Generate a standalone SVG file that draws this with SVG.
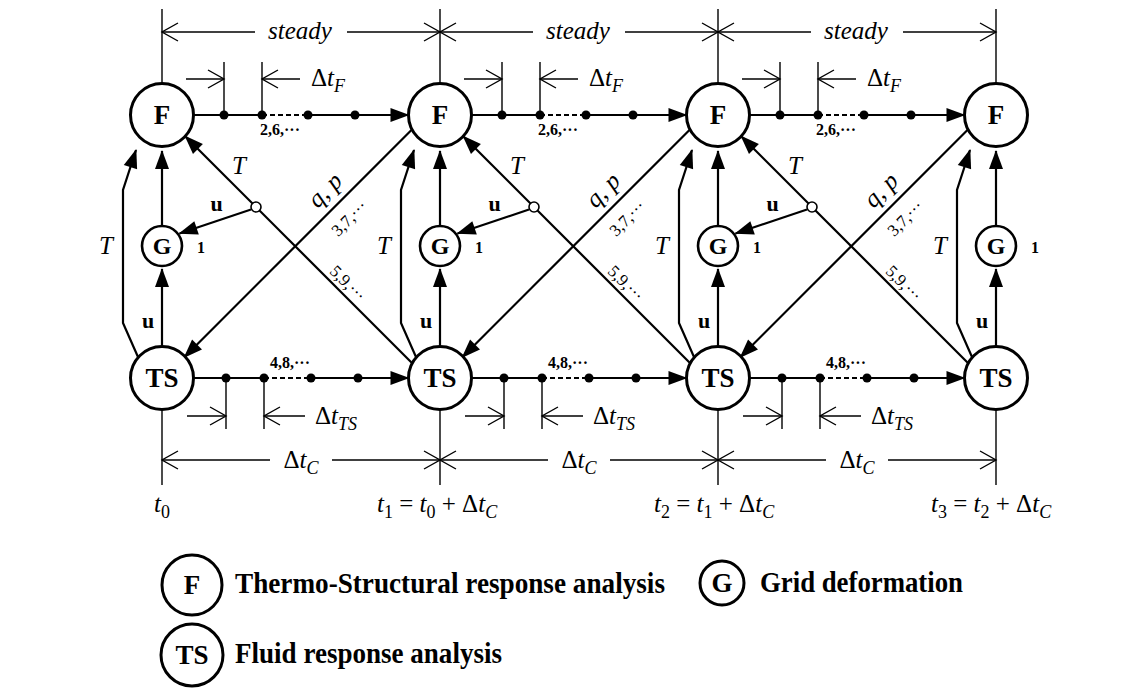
<svg xmlns="http://www.w3.org/2000/svg" width="1143" height="693" viewBox="0 0 1143 693">
<defs>
<marker id="arr" viewBox="-19 -8 20 16" refX="0" refY="0" markerWidth="20" markerHeight="16" markerUnits="userSpaceOnUse" orient="auto"><path d="M1,0 L-18,-7 L-18,7 Z" fill="#000"/></marker>
<marker id="open" viewBox="-18 -11 20 22" refX="0" refY="0" markerWidth="20" markerHeight="22" markerUnits="userSpaceOnUse" orient="auto"><path d="M-16,-9 L0,0 L-16,9" fill="none" stroke="#000" stroke-width="1.4"/></marker>
</defs>
<style>
.n{fill:#fff;stroke:#000;stroke-width:3}
.ng{fill:#fff;stroke:#000;stroke-width:2.6}
.c{fill:none;stroke:#000;stroke-width:2.2}
.ca{fill:none;stroke:#000;stroke-width:2.2;marker-end:url(#arr)}
.d{fill:none;stroke:#000;stroke-width:1.4}
.da{fill:none;stroke:#000;stroke-width:1.4;marker-end:url(#open)}
.dash{fill:none;stroke:#000;stroke-width:2;stroke-dasharray:5 3}
.sc{fill:#fff;stroke:#000;stroke-width:1.6}
text{font-family:"Liberation Serif","Times New Roman",serif;fill:#000}
.lbl{font-weight:bold;font-size:27px;text-anchor:middle}
.lg{font-weight:bold;font-size:24px;text-anchor:middle}
.itm{font-style:italic;font-size:25px;text-anchor:middle}
.rm{font-size:25px}
.rmm{font-size:25px;text-anchor:middle}
.sub{font-size:18px}
.sm{font-size:17px;text-anchor:middle}
.smb{font-size:16px;font-weight:bold}
.ub{font-size:22px;font-weight:bold;text-anchor:middle}
.one{font-size:16px;font-weight:bold}
.leg{font-size:30px;font-weight:bold}
.legl{font-weight:bold;font-size:27px;text-anchor:middle}
</style>
<rect width="1143" height="693" fill="#fff"/>

<g id="connectors">
  <g id="col-connectors">
    <g id="colc1">
      <path class="ca" d="M138,357 L123,323 L123,190 L136,150"/>
      <path class="ca" d="M162,346.5 L162,269"/>
      <path class="ca" d="M162,226 L162,151"/>
    </g>
    <g id="colc2" transform="translate(278,0)">
      <path class="ca" d="M138,357 L123,323 L123,190 L136,150"/>
      <path class="ca" d="M162,346.5 L162,269"/>
      <path class="ca" d="M162,226 L162,151"/>
    </g>
    <g id="colc3" transform="translate(556,0)">
      <path class="ca" d="M138,357 L123,323 L123,190 L136,150"/>
      <path class="ca" d="M162,346.5 L162,269"/>
      <path class="ca" d="M162,226 L162,151"/>
    </g>
    <g id="colc4" transform="translate(834,0)">
      <path class="ca" d="M138,357 L123,323 L123,190 L136,150"/>
      <path class="ca" d="M162,346.5 L162,269"/>
      <path class="ca" d="M162,226 L162,151"/>
    </g>
  </g>
  <g id="sec1">
    <path class="c" d="M193.5,115 H262"/>
    <path class="dash" d="M262,115 H308"/>
    <path class="ca" d="M308,115 H408.5"/>
    <circle cx="224" cy="115" r="4.5"/><circle cx="262" cy="115" r="4.5"/><circle cx="308" cy="115" r="4.5"/><circle cx="355" cy="115" r="4.5"/>
    <path class="c" d="M193.5,378 H264"/>
    <path class="dash" d="M264,378 H311"/>
    <path class="ca" d="M311,378 H408.5"/>
    <circle cx="226" cy="378" r="4.5"/><circle cx="264" cy="378" r="4.5"/><circle cx="311" cy="378" r="4.5"/><circle cx="358" cy="378" r="4.5"/>
    <path class="ca" d="M412,129.5 L184.3,357.2"/>
    <path class="ca" d="M412.2,363.2 L185.2,136.2"/>
    <circle class="sc" cx="256" cy="207" r="5"/>
    <path class="ca" d="M251,209.5 L179.5,233.5"/>
  </g>
  <g id="sec2" transform="translate(278,0)">
    <path class="c" d="M193.5,115 H262"/>
    <path class="dash" d="M262,115 H308"/>
    <path class="ca" d="M308,115 H408.5"/>
    <circle cx="224" cy="115" r="4.5"/><circle cx="262" cy="115" r="4.5"/><circle cx="308" cy="115" r="4.5"/><circle cx="355" cy="115" r="4.5"/>
    <path class="c" d="M193.5,378 H264"/>
    <path class="dash" d="M264,378 H311"/>
    <path class="ca" d="M311,378 H408.5"/>
    <circle cx="226" cy="378" r="4.5"/><circle cx="264" cy="378" r="4.5"/><circle cx="311" cy="378" r="4.5"/><circle cx="358" cy="378" r="4.5"/>
    <path class="ca" d="M412,129.5 L184.3,357.2"/>
    <path class="ca" d="M412.2,363.2 L185.2,136.2"/>
    <circle class="sc" cx="256" cy="207" r="5"/>
    <path class="ca" d="M251,209.5 L179.5,233.5"/>
  </g>
  <g id="sec3" transform="translate(556,0)">
    <path class="c" d="M193.5,115 H262"/>
    <path class="dash" d="M262,115 H308"/>
    <path class="ca" d="M308,115 H408.5"/>
    <circle cx="224" cy="115" r="4.5"/><circle cx="262" cy="115" r="4.5"/><circle cx="308" cy="115" r="4.5"/><circle cx="355" cy="115" r="4.5"/>
    <path class="c" d="M193.5,378 H264"/>
    <path class="dash" d="M264,378 H311"/>
    <path class="ca" d="M311,378 H408.5"/>
    <circle cx="226" cy="378" r="4.5"/><circle cx="264" cy="378" r="4.5"/><circle cx="311" cy="378" r="4.5"/><circle cx="358" cy="378" r="4.5"/>
    <path class="ca" d="M412,129.5 L184.3,357.2"/>
    <path class="ca" d="M412.2,363.2 L185.2,136.2"/>
    <circle class="sc" cx="256" cy="207" r="5"/>
    <path class="ca" d="M251,209.5 L179.5,233.5"/>
  </g>
</g>

<g id="dimensions">
  <path class="d" d="M162,9 V83.5 M162,409.5 V485 M440,9 V83.5 M440,409.5 V485 M718,9 V83.5 M718,409.5 V485 M996,9 V83.5 M996,409.5 V485"/>
  <g id="dim1">
    <path class="d" d="M224,62 V115 M262,62 V115 M226,378 V429 M264,378 V429"/>
    <path class="da" d="M186,79 H224"/><path class="da" d="M300,79 H262"/>
    <path class="da" d="M187,416 H226"/><path class="da" d="M305,416 H264"/>
    <path class="da" d="M255,32 H162"/><path class="da" d="M347,32 H440"/>
    <path class="da" d="M270,460 H162"/><path class="da" d="M332,460 H440"/>
  </g>
  <g id="dim2" transform="translate(278,0)">
    <path class="d" d="M224,62 V115 M262,62 V115 M226,378 V429 M264,378 V429"/>
    <path class="da" d="M186,79 H224"/><path class="da" d="M300,79 H262"/>
    <path class="da" d="M187,416 H226"/><path class="da" d="M305,416 H264"/>
    <path class="da" d="M255,32 H162"/><path class="da" d="M347,32 H440"/>
    <path class="da" d="M270,460 H162"/><path class="da" d="M332,460 H440"/>
  </g>
  <g id="dim3" transform="translate(556,0)">
    <path class="d" d="M224,62 V115 M262,62 V115 M226,378 V429 M264,378 V429"/>
    <path class="da" d="M186,79 H224"/><path class="da" d="M300,79 H262"/>
    <path class="da" d="M187,416 H226"/><path class="da" d="M305,416 H264"/>
    <path class="da" d="M255,32 H162"/><path class="da" d="M347,32 H440"/>
    <path class="da" d="M270,460 H162"/><path class="da" d="M332,460 H440"/>
  </g>
</g>

<g id="labels">
  <g id="seclabels1">
    <text class="itm" x="300" y="39">steady</text>
    <text class="rm" x="311" y="86">Δ<tspan font-style="italic">t</tspan><tspan class="sub" font-style="italic" dy="6">F</tspan></text>
    <text class="rm" x="315" y="424">Δ<tspan font-style="italic">t</tspan><tspan class="sub" font-style="italic" dy="6">TS</tspan></text>
    <text class="rmm" x="301" y="468">Δ<tspan font-style="italic">t</tspan><tspan class="sub" font-style="italic" dy="6">C</tspan></text>
    <text class="smb" x="260" y="135">2,6,···</text>
    <text class="smb" x="270" y="368">4,8,···</text>
    <text class="itm" x="239" y="174">T</text>
    <text class="ub" x="216.5" y="211">u</text>
    <text class="itm" transform="translate(325,190) rotate(-45)" y="8">q, p</text>
    <text class="sm" transform="translate(349,218) rotate(-45)" y="6">3,7,···</text>
    <text class="sm" transform="translate(348,283) rotate(45)" y="6">5,9,···</text>
  </g>
  <g id="seclabels2" transform="translate(278,0)">
    <text class="itm" x="300" y="39">steady</text>
    <text class="rm" x="311" y="86">Δ<tspan font-style="italic">t</tspan><tspan class="sub" font-style="italic" dy="6">F</tspan></text>
    <text class="rm" x="315" y="424">Δ<tspan font-style="italic">t</tspan><tspan class="sub" font-style="italic" dy="6">TS</tspan></text>
    <text class="rmm" x="301" y="468">Δ<tspan font-style="italic">t</tspan><tspan class="sub" font-style="italic" dy="6">C</tspan></text>
    <text class="smb" x="260" y="135">2,6,···</text>
    <text class="smb" x="270" y="368">4,8,···</text>
    <text class="itm" x="239" y="174">T</text>
    <text class="ub" x="216.5" y="211">u</text>
    <text class="itm" transform="translate(325,190) rotate(-45)" y="8">q, p</text>
    <text class="sm" transform="translate(349,218) rotate(-45)" y="6">3,7,···</text>
    <text class="sm" transform="translate(348,283) rotate(45)" y="6">5,9,···</text>
  </g>
  <g id="seclabels3" transform="translate(556,0)">
    <text class="itm" x="300" y="39">steady</text>
    <text class="rm" x="311" y="86">Δ<tspan font-style="italic">t</tspan><tspan class="sub" font-style="italic" dy="6">F</tspan></text>
    <text class="rm" x="315" y="424">Δ<tspan font-style="italic">t</tspan><tspan class="sub" font-style="italic" dy="6">TS</tspan></text>
    <text class="rmm" x="301" y="468">Δ<tspan font-style="italic">t</tspan><tspan class="sub" font-style="italic" dy="6">C</tspan></text>
    <text class="smb" x="260" y="135">2,6,···</text>
    <text class="smb" x="270" y="368">4,8,···</text>
    <text class="itm" x="239" y="174">T</text>
    <text class="ub" x="216.5" y="211">u</text>
    <text class="itm" transform="translate(325,190) rotate(-45)" y="8">q, p</text>
    <text class="sm" transform="translate(349,218) rotate(-45)" y="6">3,7,···</text>
    <text class="sm" transform="translate(348,283) rotate(45)" y="6">5,9,···</text>
  </g>
  <g id="collabels">
    <text class="itm" x="106" y="254">T</text><text class="ub" x="148" y="328">u</text><text class="one" x="197" y="253">1</text>
    <text class="itm" x="384" y="254">T</text><text class="ub" x="426" y="328">u</text><text class="one" x="475" y="253">1</text>
    <text class="itm" x="662" y="254">T</text><text class="ub" x="704" y="328">u</text><text class="one" x="753" y="253">1</text>
    <text class="itm" x="940" y="254">T</text><text class="ub" x="982" y="328">u</text><text class="one" x="1031" y="253">1</text>
  </g>
  <g id="times">
    <text class="rmm" x="162" y="512"><tspan font-style="italic">t</tspan><tspan class="sub" dy="6">0</tspan></text>
    <text class="rm" x="377" y="512"><tspan font-style="italic">t</tspan><tspan class="sub" dy="6">1</tspan><tspan dy="-6"> = </tspan><tspan font-style="italic">t</tspan><tspan class="sub" dy="6">0</tspan><tspan dy="-6"> + Δ</tspan><tspan font-style="italic">t</tspan><tspan class="sub" font-style="italic" dy="6">C</tspan></text>
    <text class="rm" x="654" y="512"><tspan font-style="italic">t</tspan><tspan class="sub" dy="6">2</tspan><tspan dy="-6"> = </tspan><tspan font-style="italic">t</tspan><tspan class="sub" dy="6">1</tspan><tspan dy="-6"> + Δ</tspan><tspan font-style="italic">t</tspan><tspan class="sub" font-style="italic" dy="6">C</tspan></text>
    <text class="rm" x="931" y="512"><tspan font-style="italic">t</tspan><tspan class="sub" dy="6">3</tspan><tspan dy="-6"> = </tspan><tspan font-style="italic">t</tspan><tspan class="sub" dy="6">2</tspan><tspan dy="-6"> + Δ</tspan><tspan font-style="italic">t</tspan><tspan class="sub" font-style="italic" dy="6">C</tspan></text>
  </g>
</g>

<g id="nodes">
  <g id="F1"><circle class="n" cx="162" cy="115" r="31.5"/><text class="lbl" x="162" y="124">F</text></g>
  <g id="F2"><circle class="n" cx="440" cy="115" r="31.5"/><text class="lbl" x="440" y="124">F</text></g>
  <g id="F3"><circle class="n" cx="718" cy="115" r="31.5"/><text class="lbl" x="718" y="124">F</text></g>
  <g id="F4"><circle class="n" cx="996" cy="115" r="31.5"/><text class="lbl" x="996" y="124">F</text></g>
  <g id="G1"><circle class="ng" cx="162" cy="246" r="20"/><text class="lg" x="162" y="254">G</text></g>
  <g id="G2"><circle class="ng" cx="440" cy="246" r="20"/><text class="lg" x="440" y="254">G</text></g>
  <g id="G3"><circle class="ng" cx="718" cy="246" r="20"/><text class="lg" x="718" y="254">G</text></g>
  <g id="G4"><circle class="ng" cx="996" cy="246" r="20"/><text class="lg" x="996" y="254">G</text></g>
  <g id="TS1"><circle class="n" cx="162" cy="378" r="31.5"/><text class="lbl" x="162" y="387">TS</text></g>
  <g id="TS2"><circle class="n" cx="440" cy="378" r="31.5"/><text class="lbl" x="440" y="387">TS</text></g>
  <g id="TS3"><circle class="n" cx="718" cy="378" r="31.5"/><text class="lbl" x="718" y="387">TS</text></g>
  <g id="TS4"><circle class="n" cx="996" cy="378" r="31.5"/><text class="lbl" x="996" y="387">TS</text></g>
</g>

<g id="legend">
  <g id="legF"><circle class="n" cx="192" cy="585" r="30"/><text class="legl" x="192" y="594">F</text>
    <text class="leg" x="235" y="593" textLength="430" lengthAdjust="spacingAndGlyphs">Thermo-Structural response analysis</text></g>
  <g id="legG"><circle class="n" cx="722" cy="583" r="22"/><text class="legl" x="722" y="592" font-size="25">G</text>
    <text class="leg" x="760" y="592" textLength="203" lengthAdjust="spacingAndGlyphs">Grid deformation</text></g>
  <g id="legTS"><circle class="n" cx="192" cy="655" r="31"/><text class="legl" x="192" y="664">TS</text>
    <text class="leg" x="235" y="663" textLength="267" lengthAdjust="spacingAndGlyphs">Fluid response analysis</text></g>
</g>
</svg>
